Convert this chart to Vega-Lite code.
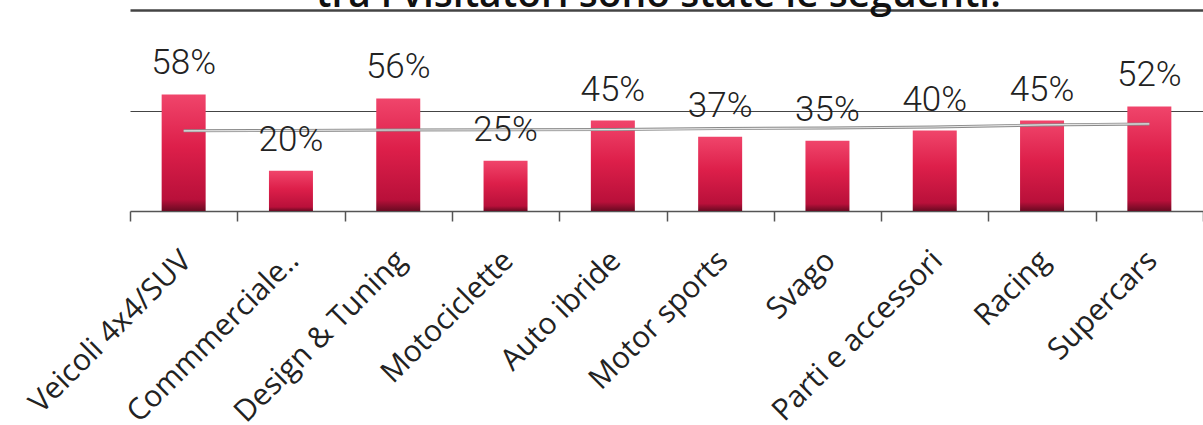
{
  "$schema": "https://vega.github.io/schema/vega-lite/v6.json",
  "width": 1073,
  "height": 201,
  "autosize": {"type": "none"},
  "padding": {"left": 130, "top": 10, "right": 0, "bottom": 214},
  "background": "white",
  "config": {"view": {"stroke": null}},
  "datasets": {
    "titolo": [{"testo": "tra i visitatori sono state le seguenti:", "pos": "Motor sports", "quota": 101.6}]
  },
  "data": {
    "values": [
      {"categoria": "Veicoli 4x4/SUV", "valore": 58, "etichetta": "58%", "tendenza": 39.9},
      {"categoria": "Commmerciale..", "valore": 20, "etichetta": "20%", "tendenza": 40.1},
      {"categoria": "Design & Tuning", "valore": 56, "etichetta": "56%", "tendenza": 40.3},
      {"categoria": "Motociclette", "valore": 25, "etichetta": "25%", "tendenza": 40.4},
      {"categoria": "Auto ibride", "valore": 45, "etichetta": "45%", "tendenza": 40.5},
      {"categoria": "Motor sports", "valore": 37, "etichetta": "37%", "tendenza": 41.0},
      {"categoria": "Svago", "valore": 35, "etichetta": "35%", "tendenza": 41.3},
      {"categoria": "Parti e accessori", "valore": 40, "etichetta": "40%", "tendenza": 41.8},
      {"categoria": "Racing", "valore": 45, "etichetta": "45%", "tendenza": 42.8},
      {"categoria": "Supercars", "valore": 52, "etichetta": "52%", "tendenza": 43.3}
    ]
  },
  "encoding": {
    "x": {
      "field": "categoria",
      "type": "nominal",
      "sort": null,
      "scale": {"paddingInner": 0, "paddingOuter": 0},
      "axis": {
        "title": null,
        "labelAngle": -45,
        "labelFont": "Open Sans",
        "labelFontSize": 30,
        "labelColor": "#222",
        "labelLimit": 400,
        "labelPadding": 24,
        "labelOffset": -8,
        "tickBand": "extent",
        "tickSize": 10,
        "tickColor": "#555",
        "tickWidth": 1.5,
        "domainColor": "#555",
        "domainWidth": 1.5
      }
    }
  },
  "layer": [
    {
      "mark": {
        "type": "bar",
        "width": {"band": 0.41},
        "color": {
          "gradient": "linear",
          "x1": 0, "y1": 0, "x2": 0, "y2": 1,
          "stops": [
            {"offset": 0, "color": "#f0456b"},
            {"offset": 0.45, "color": "#dd1f4a"},
            {"offset": 0.9, "color": "#b9103a"},
            {"offset": 1, "color": "#6a0a22"}
          ]
        }
      },
      "encoding": {
        "y": {
          "field": "valore",
          "type": "quantitative",
          "scale": {"domain": [0, 100], "nice": false},
          "axis": {
            "values": [50, 100],
            "grid": true,
            "gridColor": "#444",
            "gridWidth": {"condition": {"test": "datum.value === 100", "value": 2.5}, "value": 1.2},
            "labels": false,
            "ticks": false,
            "domain": false,
            "title": null
          }
        }
      }
    },
    {
      "mark": {"type": "line", "color": "#8a8a8a", "strokeWidth": 3},
      "encoding": {"y": {"field": "tendenza", "type": "quantitative"}}
    },
    {
      "mark": {"type": "line", "color": "#e4e4e4", "strokeWidth": 1.2},
      "encoding": {"y": {"field": "tendenza", "type": "quantitative"}}
    },
    {
      "mark": {
        "type": "text",
        "baseline": "alphabetic",
        "dy": -20,
        "font": "Roboto",
        "fontWeight": 300,
        "fontSize": 35,
        "color": "#222"
      },
      "encoding": {
        "y": {"field": "valore", "type": "quantitative"},
        "text": {"field": "etichetta"}
      }
    },
    {
      "data": {"name": "titolo"},
      "mark": {
        "type": "text",
        "baseline": "alphabetic",
        "align": "center",
        "dx": -8,
        "font": "Open Sans",
        "fontWeight": 600,
        "fontSize": 39,
        "color": "#111"
      },
      "encoding": {
        "x": {"field": "pos", "type": "nominal", "bandPosition": 0},
        "y": {"field": "quota", "type": "quantitative"},
        "text": {"field": "testo"}
      }
    }
  ]
}
